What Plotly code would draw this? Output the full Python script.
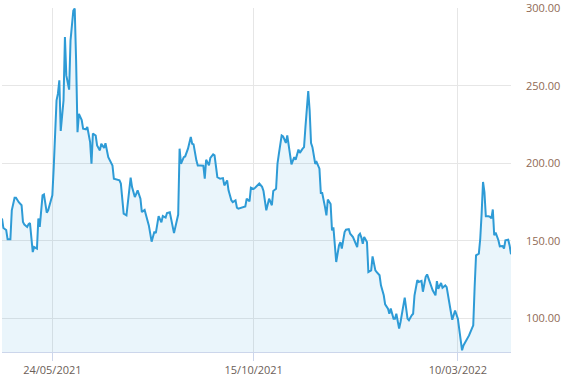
import pandas as pd
import plotly.graph_objects as go

start_date = "2021-04-18"
day_offsets = [
    0, 1, 3, 4, 6, 7, 9, 10, 12, 14, 15, 16, 18, 19, 20, 22, 23, 25, 26, 27,
    29, 30, 32, 33, 35, 36, 37, 39, 40, 41, 42, 44, 45, 46, 48, 49, 51, 52, 53, 54,
    55, 57, 58, 60, 61, 63, 64, 65, 67, 68, 70, 71, 73, 74, 76, 77, 79, 80, 82, 84,
    85, 86, 87, 89, 90, 92, 93, 95, 96, 97, 99, 100, 102, 104, 105, 107, 109, 110, 112, 114,
    115, 117, 118, 120, 121, 123, 125, 126, 127, 128, 130, 131, 133, 135, 136, 137, 139, 140, 142, 144,
    145, 146, 148, 149, 151, 152, 154, 156, 158, 159, 161, 162, 164, 165, 167, 168, 169, 171, 172, 174,
    175, 177, 178, 180, 181, 183, 184, 186, 187, 189, 190, 191, 193, 194, 196, 197, 198, 200, 201, 203,
    204, 206, 207, 209, 210, 212, 213, 215, 216, 217, 219, 220, 221, 222, 224, 225, 227, 228, 229, 231,
    232, 233, 235, 236, 237, 239, 241, 242, 243, 245, 246, 248, 249, 251, 252, 254, 255, 256, 257, 258,
    259, 261, 262, 264, 265, 267, 268, 270, 271, 273, 274, 276, 277, 278, 280, 281, 282, 284, 285, 287,
    288, 290, 291, 293, 294, 295, 297, 298, 300, 301, 303, 304, 306, 307, 308, 310, 311, 312, 314, 315,
    317, 318, 319, 321, 322, 323, 324, 326, 327, 328, 329, 330, 332, 333, 334, 336, 337, 338, 339, 341,
    342, 343, 344, 345, 346, 348, 349, 350, 351, 352, 353, 355, 356, 358, 359, 360, 362, 363, 364,
]
prices = [
    164.5, 158.3, 157.0, 151.0, 151.0, 169.7, 177.9, 177.9, 175.0, 173.0, 162.2, 160.5, 159.0, 160.8, 161.5, 142.8, 146.0, 145.0, 164.5, 159.0,
    179.4, 180.0, 168.2, 169.7, 176.2, 179.4, 197.6, 240.7, 245.0, 253.6, 220.9, 240.7, 281.5, 256.8, 247.6, 279.4, 298.7, 300.0, 266.5, 220.2,
    232.0, 228.0, 222.4, 222.0, 223.5, 213.8, 199.8, 219.2, 218.0, 211.6, 208.4, 212.7, 210.0, 213.0, 204.0, 202.4, 198.7, 190.1, 189.7, 189.1,
    187.0, 176.2, 167.6, 166.5, 176.2, 190.8, 184.7, 178.3, 180.4, 182.6, 177.2, 168.6, 170.0, 164.0, 160.0, 149.5, 156.0, 155.0, 166.0, 162.0,
    166.0, 165.0, 168.0, 168.5, 164.0, 155.0, 163.0, 167.0, 209.5, 199.8, 204.0, 204.5, 209.5, 217.0, 212.7, 212.3, 202.0, 198.7, 198.7, 198.5,
    190.1, 202.4, 198.7, 203.6, 205.8, 205.2, 191.2, 190.1, 190.5, 185.8, 189.0, 182.6, 176.2, 175.0, 176.2, 171.4, 170.8, 171.2, 171.8, 172.2,
    177.2, 175.5, 184.3, 183.6, 184.3, 186.4, 187.0, 184.9, 182.2, 169.7, 174.0, 177.2, 173.0, 182.2, 183.6, 199.8, 206.2, 218.1, 217.5, 213.2,
    218.1, 206.2, 199.4, 204.0, 202.4, 208.9, 206.8, 209.5, 210.5, 223.5, 246.7, 234.2, 213.1, 210.5, 199.8, 200.8, 196.6, 180.9, 180.9, 171.8,
    166.5, 176.7, 173.8, 156.8, 158.7, 136.4, 147.1, 149.2, 145.0, 155.7, 157.2, 157.6, 154.6, 152.5, 150.4, 146.0, 153.6, 154.6, 152.1, 148.2,
    152.5, 149.3, 129.9, 131.0, 140.0, 131.0, 129.9, 127.8, 121.3, 114.9, 109.0, 106.3, 103.0, 106.3, 99.8, 99.8, 103.0, 93.4, 97.7, 110.2,
    113.4, 99.8, 98.8, 102.0, 103.0, 114.9, 124.6, 123.5, 124.2, 117.2, 126.8, 128.4, 123.5, 121.3, 118.1, 114.9, 124.0, 119.1, 122.8, 119.8,
    121.3, 120.2, 113.8, 104.1, 99.1, 103.0, 105.1, 99.8, 92.3, 84.8, 79.4, 82.5, 85.8, 87.5, 89.0, 93.4, 95.5, 120.2, 140.7, 141.8,
    151.4, 167.6, 188.0, 181.5, 165.9, 165.9, 165.5, 164.5, 170.3, 153.6, 155.3, 150.4, 146.5, 146.7, 145.0, 150.4, 150.8, 147.1, 141.4,
]
x_tick_dates = ["2021-05-24", "2021-10-15", "2022-03-10"]
y_ticks = [100, 150, 200, 250, 300]

dates = pd.Timestamp(start_date) + pd.to_timedelta(day_offsets, unit="D")

fig = go.Figure()
fig.add_trace(go.Scatter(
    x=dates, y=prices, mode="lines",
    line=dict(color="#2e9bd6", width=2),
    fill="tozeroy", fillcolor="rgba(46,155,214,0.1)",
    hoverinfo="skip", showlegend=False, cliponaxis=True,
))

fig.update_layout(
    width=562, height=382,
    margin=dict(l=2, r=51, t=8, b=30, autoexpand=False),
    paper_bgcolor="white", plot_bgcolor="white",
    font=dict(family="Open Sans, sans-serif", size=11, color="#666666"),
    showlegend=False,
)
fig.update_xaxes(
    range=[dates[0], dates[-1]],
    tickvals=pd.to_datetime(x_tick_dates),
    ticktext=[pd.Timestamp(d).strftime("%d/%m/%Y") for d in x_tick_dates],
    showgrid=True, gridcolor="#e6e6e6", gridwidth=1,
    showline=True, linecolor="#ccd6eb", linewidth=1,
    ticks="outside", ticklen=8, tickcolor="#ccd6eb",
    tickfont=dict(color="#6b6058"),
    zeroline=False, automargin=False, ticklabeloverflow="allow",
)
fig.update_yaxes(
    side="right",
    range=[78.3, 300.3],
    tickvals=y_ticks,
    ticktext=[f"{v:.2f}" for v in y_ticks],
    showgrid=True, gridcolor="#e6e6e6", gridwidth=1,
    showline=False, zeroline=False,
    ticks="", ticklabelstandoff=14,
    tickfont=dict(color="#8f6a55"),
    automargin=False, ticklabeloverflow="allow",
)

fig.write_html("out.html", config={"displayModeBar": False})
with open("out.html", "r", encoding="utf-8") as f:
    html = f.read()
html = html.replace("<head>", "<head><style>html,body{margin:0;padding:0;overflow:hidden;}</style>", 1)
with open("out.html", "w", encoding="utf-8") as f:
    f.write(html)
